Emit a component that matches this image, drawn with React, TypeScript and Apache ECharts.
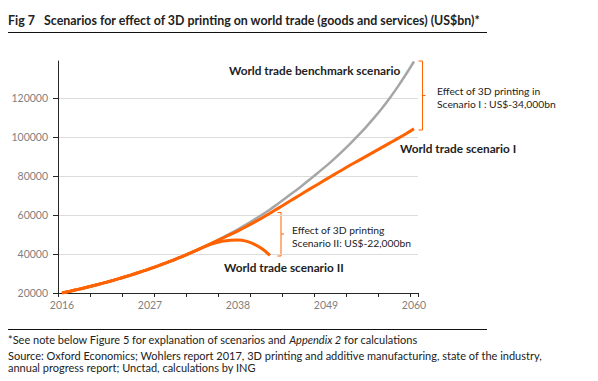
import React, { useEffect, useRef } from 'react';
import * as echarts from 'echarts';

const years = [
  '2016', '2017', '2018', '2019', '2020', '2021', '2022', '2023', '2024', '2025',
  '2026', '2027', '2028', '2029', '2030', '2031', '2032', '2033', '2034', '2035',
  '2036', '2037', '2038', '2039', '2040', '2041', '2042', '2043', '2044', '2045',
  '2046', '2047', '2048', '2049', '2050', '2051', '2052', '2053', '2054', '2055',
  '2056', '2057', '2058', '2059', '2060',
];

const benchmark = [
  20000, 20900, 21840, 22820, 23850, 24920, 26040, 27220, 28440, 29720,
  31060, 32460, 33920, 35440, 37040, 38700, 40450, 42270, 44170, 46160,
  48240, 50410, 52680, 55050, 57530, 60120, 62820, 65800, 68800, 71900,
  75000, 78300, 81700, 85100, 88700, 92500, 96500, 100700, 105100, 109800,
  114800, 120200, 126000, 132200, 138750,
];

const scenarioI = [
  20000, 20900, 21840, 22820, 23850, 24920, 26040, 27220, 28440, 29720,
  31060, 32460, 33920, 35440, 37040, 38700, 40450, 42270, 44170, 46100,
  48000, 49900, 51900, 54000, 56200, 58500, 60900, 63400, 65900, 68400,
  70900, 73400, 75800, 78300, 80700, 83100, 85500, 87800, 90100, 92400,
  94700, 97000, 99300, 101700, 104200,
];

const scenarioII = [
  20000, 20900, 21840, 22820, 23850, 24920, 26040, 27220, 28440, 29720,
  31060, 32460, 33920, 35440, 37040, 38700, 40450, 42270, 44000, 45500,
  46500, 47100, 47200, 46600, 45100, 42700, 39300,
];

const yTicks = [20000, 40000, 60000, 80000, 100000, 120000];

const ORANGE = '#ff6200';
const GRAY = '#a6a6a6';
const DARK = '#222222';
const FONT = 'Lato, "Open Sans", sans-serif';

export default function App() {
  const ref = useRef<HTMLDivElement>(null);

  useEffect(() => {
    const chart = echarts.init(ref.current as HTMLDivElement, null, { renderer: 'svg' });

    const txt = (text: string, x: number, y: number, size: number, weight: string | number = 'normal', color = DARK) => ({
      type: 'text',
      x,
      y,
      style: {
        text,
        fill: color,
        font: `${weight} ${size}px ${FONT}`,
        verticalAlign: 'middle',
        align: 'left',
      },
      silent: true,
    });

    const seg = (x1: number, y1: number, x2: number, y2: number, color: string, w = 1) => ({
      type: 'line',
      shape: { x1, y1, x2, y2 },
      style: { stroke: color, lineWidth: w },
      silent: true,
    });

    chart.setOption({
      animation: false,
      backgroundColor: '#ffffff',
      grid: { left: 58, right: 180, top: 61, bottom: 88, containLabel: false },
      xAxis: {
        type: 'category',
        data: years,
        boundaryGap: true,
        axisLine: { show: true, lineStyle: { color: '#262626', width: 1 } },
        axisTick: { show: true, interval: 3, length: 4, lineStyle: { color: '#262626' } },
        axisLabel: { interval: 10, color: '#7f7f7f', fontSize: 10.5, fontFamily: FONT, margin: 6 },
        splitLine: { show: false },
      },
      yAxis: {
        type: 'value',
        min: 20000,
        max: 139000,
        axisLine: { show: true, lineStyle: { color: '#262626', width: 1 } },
        axisTick: { show: true, length: 5, customValues: yTicks, lineStyle: { color: '#262626' } },
        axisLabel: {
          customValues: yTicks,
          color: '#7f7f7f',
          fontSize: 10.5,
          fontFamily: FONT,
          margin: 10,
          formatter: (v: number) => String(v),
        },
        splitLine: { show: true, lineStyle: { color: '#dcdcdc', width: 1 } },
      },
      series: [
        {
          name: 'World trade benchmark scenario',
          type: 'line',
          data: benchmark,
          showSymbol: false,
          smooth: 0.3,
          lineStyle: { color: GRAY, width: 2.5 },
          itemStyle: { color: GRAY },
          z: 2,
        },
        {
          name: 'World trade scenario I',
          type: 'line',
          data: scenarioI,
          showSymbol: false,
          smooth: 0.3,
          lineStyle: { color: ORANGE, width: 3 },
          itemStyle: { color: ORANGE },
          z: 3,
        },
        {
          name: 'World trade scenario II',
          type: 'line',
          data: scenarioII,
          showSymbol: false,
          smooth: 0.3,
          lineStyle: { color: ORANGE, width: 3 },
          itemStyle: { color: ORANGE },
          z: 3,
        },
      ],
      graphic: [
        txt('Fig 7', 8, 20, 12.4, 'bold'),
        txt('Scenarios for effect of 3D printing on world trade (goods and services) (US$bn)*', 44, 20, 12.4, 'bold'),
        seg(8, 32.5, 487, 32.5, '#111111', 1),
        txt('World trade benchmark scenario', 229, 70, 11.8, 'bold'),
        txt('World trade scenario I', 400, 148, 11.8, 'bold'),
        txt('World trade scenario II', 224, 267, 11.8, 'bold'),
        txt('Effect of 3D printing in', 437, 91, 10.3),
        txt('Scenario I : US$-34,000bn', 437, 103.5, 10.3),
        txt('Effect of 3D printing', 292, 230, 10.3),
        txt('Scenario II: US$-22,000bn', 292, 242.5, 10.3),
        // bracket I
        seg(422.5, 61, 422.5, 130, ORANGE, 1),
        seg(418.5, 61, 422.5, 61, ORANGE, 1),
        seg(418.5, 130, 422.5, 130, ORANGE, 1),
        seg(422.5, 95.5, 425.5, 95.5, ORANGE, 1),
        // bracket II
        seg(281, 212.5, 281, 256, ORANGE, 1),
        seg(277.5, 212.5, 281, 212.5, ORANGE, 1),
        seg(277.5, 256, 281, 256, ORANGE, 1),
        seg(281, 234, 284, 234, ORANGE, 1),
        seg(8, 329.5, 487, 329.5, '#111111', 1),
        {
          type: 'text',
          x: 8,
          y: 339,
          silent: true,
          style: {
            text: '{a|*See note below Figure 5 for explanation of scenarios and }{i|Appendix 2}{a| for calculations}',
            verticalAlign: 'middle',
            rich: {
              a: { font: `normal 11px ${FONT}`, fill: DARK },
              i: { font: `italic 11px ${FONT}`, fill: DARK },
            },
          },
        },
        txt('Source: Oxford Economics; Wohlers report 2017, 3D printing and additive manufacturing, state of the industry,', 8, 355, 11),
        txt('annual progress report; Unctad, calculations by ING', 8, 367.5, 11),
      ],
    });

    return () => {
      chart.dispose();
    };
  }, []);

  return (
    <div
      ref={ref}
      style={{ position: 'fixed', left: 0, top: 0, width: 598, height: 381, background: '#fff' }}
    />
  );
}
